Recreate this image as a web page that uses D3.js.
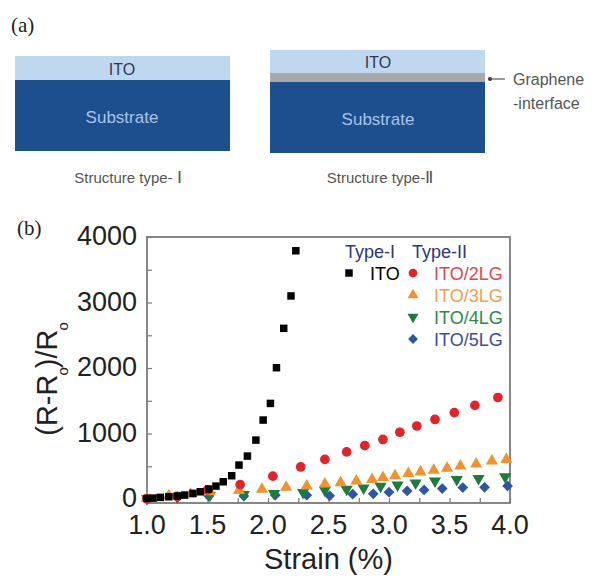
<!DOCTYPE html>
<html>
<head>
<meta charset="utf-8">
<script src="https://cdn.jsdelivr.net/npm/d3@7"></script>
<style>
  body { margin: 0; background: #fff; }
  svg { display: block; }
</style>
</head>
<body>
<svg id="fig" width="605" height="578"></svg>
<script>
// ---- Panel (b) data: relative resistance change vs. applied strain ----
const strainITO = [1.00, 1.05, 1.11, 1.18, 1.25, 1.31, 1.38, 1.44, 1.51, 1.57, 1.63, 1.70, 1.76, 1.83, 1.90, 1.96, 2.02, 2.07, 2.13, 2.19, 2.23];
const valueITO  = [10, 15, 26, 35, 46, 61, 87, 111, 153, 198, 264, 356, 519, 656, 900, 1206, 1460, 2005, 2606, 3100, 3790];

const strain2LG = [1.00, 1.25, 1.50, 1.77, 2.04, 2.27, 2.47, 2.65, 2.80, 2.95, 3.09, 3.23, 3.38, 3.54, 3.71, 3.90];
const value2LG  = [5, 40, 140, 220, 350, 490, 605, 720, 815, 910, 1020, 1115, 1215, 1320, 1430, 1550];

const strain3LG = [1.00, 1.18, 1.36, 1.52, 1.76, 1.95, 2.15, 2.32, 2.47, 2.60, 2.73, 2.86, 2.95, 3.05, 3.16, 3.26, 3.37, 3.48, 3.59, 3.72, 3.85, 3.97];
const value3LG  = [10, 50, 75, 110, 130, 150, 180, 200, 230, 250, 275, 300, 330, 355, 390, 415, 440, 470, 505, 535, 580, 605];

const strain4LG = [1.00, 1.25, 1.52, 1.80, 2.05, 2.29, 2.47, 2.65, 2.79, 2.93, 3.07, 3.22, 3.38, 3.56, 3.74, 3.96];
const value4LG  = [5, 30, 60, 70, 85, 100, 135, 150, 170, 195, 215, 245, 275, 300, 315, 340];

const strain5LG = [1.00, 1.25, 1.51, 1.80, 2.06, 2.32, 2.51, 2.70, 2.87, 3.00, 3.15, 3.29, 3.44, 3.61, 3.79, 3.98];
const value5LG  = [5, 35, 45, 45, 60, 60, 50, 75, 80, 105, 125, 140, 160, 175, 180, 200];

const xTicks = [1.0, 1.5, 2.0, 2.5, 3.0, 3.5, 4.0];
const yTicks = [0, 1000, 2000, 3000, 4000];

const typeIINames = ["ITO/2LG", "ITO/3LG", "ITO/4LG", "ITO/5LG"];

// ---- Panel (a) labels ----
const layerLabels = ["ITO", "Substrate"];
const structurePrefixes = ["Structure type- ", "Structure type-"];
const structureNumerals = ["\u2160", "\u2161"];
const interfaceLabel = ["Graphene", "-interface"];

const svg = d3.select("#fig");
const sans = "'Liberation Sans', Arial, sans-serif";
const serif = "'Liberation Serif', 'Times New Roman', serif";

// ================= Panel (a): layer schematics =================
svg.append("text").attr("x", 11).attr("y", 32)
  .attr("font-family", serif).attr("font-size", 21).attr("fill", "#222").text("(a)");

const itoFill = "#bfd7ef", subFill = "#1d4f8e", grapheneFill = "#a7a9ab";

function structureCaption(g, cx, i) {
  const t = g.append("text").attr("x", cx).attr("y", 183).attr("text-anchor", "middle")
    .attr("font-family", sans).attr("font-size", 15).attr("fill", "#555");
  t.append("tspan").text(structurePrefixes[i]);
  t.append("tspan").attr("font-family", serif).attr("font-size", 17).text(structureNumerals[i]);
}

// type I: ITO directly on substrate
const s1 = svg.append("g");
s1.append("rect").attr("x", 15).attr("y", 56).attr("width", 215).attr("height", 25).attr("fill", itoFill);
s1.append("rect").attr("x", 15).attr("y", 80).attr("width", 215).attr("height", 71).attr("fill", subFill);
s1.append("text").attr("x", 122).attr("y", 75).attr("text-anchor", "middle")
  .attr("font-family", sans).attr("font-size", 16).attr("fill", "#2c3a52").text(layerLabels[0]);
s1.append("text").attr("x", 122).attr("y", 123).attr("text-anchor", "middle")
  .attr("font-family", sans).attr("font-size", 17).attr("fill", "#a8c4e8").text(layerLabels[1]);
structureCaption(s1, 128, 0);

// type II: ITO on a graphene interface layer
const s2 = svg.append("g");
s2.append("rect").attr("x", 270).attr("y", 50).attr("width", 215).attr("height", 24).attr("fill", itoFill);
s2.append("rect").attr("x", 270).attr("y", 73).attr("width", 215).attr("height", 10).attr("fill", grapheneFill);
s2.append("rect").attr("x", 270).attr("y", 82).attr("width", 215).attr("height", 71).attr("fill", subFill);
s2.append("text").attr("x", 378).attr("y", 68).attr("text-anchor", "middle")
  .attr("font-family", sans).attr("font-size", 16).attr("fill", "#2c3a52").text(layerLabels[0]);
s2.append("text").attr("x", 378).attr("y", 125).attr("text-anchor", "middle")
  .attr("font-family", sans).attr("font-size", 17).attr("fill", "#a8c4e8").text(layerLabels[1]);
structureCaption(s2, 380, 1);

// pointer to the graphene interface
s2.append("circle").attr("cx", 490).attr("cy", 79).attr("r", 2).attr("fill", "#333");
s2.append("line").attr("x1", 490).attr("y1", 79).attr("x2", 505).attr("y2", 79)
  .attr("stroke", "#555").attr("stroke-width", 1.2);
s2.append("text").attr("x", 513).attr("y", 85)
  .attr("font-family", sans).attr("font-size", 16).attr("fill", "#555").text(interfaceLabel[0]);
s2.append("text").attr("x", 513).attr("y", 109)
  .attr("font-family", sans).attr("font-size", 16).attr("fill", "#555").text(interfaceLabel[1]);

// ================= Panel (b): resistance change vs strain =================
svg.append("text").attr("x", 17).attr("y", 235)
  .attr("font-family", serif).attr("font-size", 21).attr("fill", "#222").text("(b)");

const plot = { left: 147, right: 510, top: 237, bottom: 503 };
const x = d3.scaleLinear().domain([1, 4]).range([plot.left, plot.right]);
const y = d3.scaleLinear().domain([-60, 4000]).range([plot.bottom, plot.top]);

const axisColor = "#7a7a7a";

// inward ticks on the left and bottom
const yAxis = d3.axisLeft(y).tickValues(d3.range(0, 4001, 500)).tickSize(-5).tickFormat("");
const xAxis = d3.axisBottom(x).tickValues(d3.range(1, 4.001, 0.25)).tickSize(-5).tickFormat("");
const gy = svg.append("g").attr("transform", `translate(${plot.left},0)`).call(yAxis);
const gx = svg.append("g").attr("transform", `translate(0,${plot.bottom})`).call(xAxis);
[gx, gy].forEach(g => {
  g.select(".domain").remove();
  g.selectAll("line").attr("stroke", axisColor).attr("stroke-width", 1.2);
});

// frame
svg.append("rect").attr("x", plot.left).attr("y", plot.top)
  .attr("width", plot.right - plot.left).attr("height", plot.bottom - plot.top)
  .attr("fill", "none").attr("stroke", axisColor).attr("stroke-width", 1.8);

// tick labels
svg.append("g").selectAll("text").data(yTicks).join("text")
  .attr("x", plot.left - 10).attr("y", d => y(d) + 8)
  .attr("text-anchor", "end").attr("font-family", sans).attr("font-size", 27).attr("fill", "#222")
  .text(d => d);
svg.append("g").selectAll("text").data(xTicks).join("text")
  .attr("x", d => x(d)).attr("y", plot.bottom + 31)
  .attr("text-anchor", "middle").attr("font-family", sans).attr("font-size", 27).attr("fill", "#222")
  .text(d => d.toFixed(1));

// axis titles
svg.append("text").attr("x", (plot.left + plot.right) / 2).attr("y", 569)
  .attr("text-anchor", "middle").attr("font-family", sans).attr("font-size", 29).attr("fill", "#222")
  .text("Strain (%)");

const yt = svg.append("text").attr("transform", "translate(57,379) rotate(-90)")
  .attr("text-anchor", "middle").attr("font-family", sans).attr("font-size", 29).attr("fill", "#222");
yt.append("tspan").text("(R-R");
yt.append("tspan").attr("font-size", 15).attr("dy", 11).attr("dx", -1).text("o");
yt.append("tspan").attr("dy", -11).attr("dx", -1).text(")/R");
yt.append("tspan").attr("font-size", 15).attr("dy", 11).attr("dx", -1).text("o");

// series
const series = [
  { xs: strain5LG, ys: value5LG, symbol: d3.symbolSquare, size: 58, rot: 45, color: "#2f55a6" },
  { xs: strain4LG, ys: value4LG, symbol: d3.symbolTriangle, size: 64, rot: 180, color: "#1f7b3d" },
  { xs: strain3LG, ys: value3LG, symbol: d3.symbolTriangle, size: 64, rot: 0, color: "#ef922f" },
  { xs: strain2LG, ys: value2LG, symbol: d3.symbolCircle, size: 74, rot: 0, color: "#e2232a" },
  { xs: strainITO, ys: valueITO, symbol: d3.symbolSquare, size: 56, rot: 0, color: "#000" }
];

series.forEach(s => {
  const pts = s.xs.map((v, i) => [v, s.ys[i]]);
  svg.append("g").selectAll("path").data(pts).join("path")
    .attr("d", d3.symbol().type(s.symbol).size(s.size))
    .attr("transform", d => `translate(${x(d[0])},${y(d[1])}) rotate(${s.rot})`)
    .attr("fill", s.color);
});

// legend
const lg = svg.append("g");
const navy = "#2e3585";
lg.append("text").attr("x", 345).attr("y", 258).attr("font-family", sans).attr("font-size", 18)
  .attr("fill", navy).text("Type-I");
lg.append("text").attr("x", 412).attr("y", 258).attr("font-family", sans).attr("font-size", 18)
  .attr("fill", navy).text("Type-II");
lg.append("path").attr("d", d3.symbol().type(d3.symbolSquare).size(56)())
  .attr("transform", "translate(349,273)").attr("fill", "#000");
lg.append("text").attr("x", 370).attr("y", 279.5).attr("font-family", sans).attr("font-size", 18)
  .attr("fill", "#000").text("ITO");

const legendRows = [
  { symbol: d3.symbolCircle, size: 60, rot: 0, color: "#e2232a", text: "#e0474d" },
  { symbol: d3.symbolTriangle, size: 52, rot: 0, color: "#ef922f", text: "#f0a052" },
  { symbol: d3.symbolTriangle, size: 52, rot: 180, color: "#1f7b3d", text: "#2d8a4a" },
  { symbol: d3.symbolSquare, size: 48, rot: 45, color: "#2f55a6", text: "#3d4e94" }
];
legendRows.forEach((r, i) => {
  const cy = 273 + i * 22;
  lg.append("path").attr("d", d3.symbol().type(r.symbol).size(r.size)())
    .attr("transform", `translate(413,${cy}) rotate(${r.rot})`).attr("fill", r.color);
  lg.append("text").attr("x", 434).attr("y", cy + 6.5).attr("font-family", sans).attr("font-size", 18)
    .attr("fill", r.text).text(typeIINames[i]);
});
</script>
</body>
</html>
